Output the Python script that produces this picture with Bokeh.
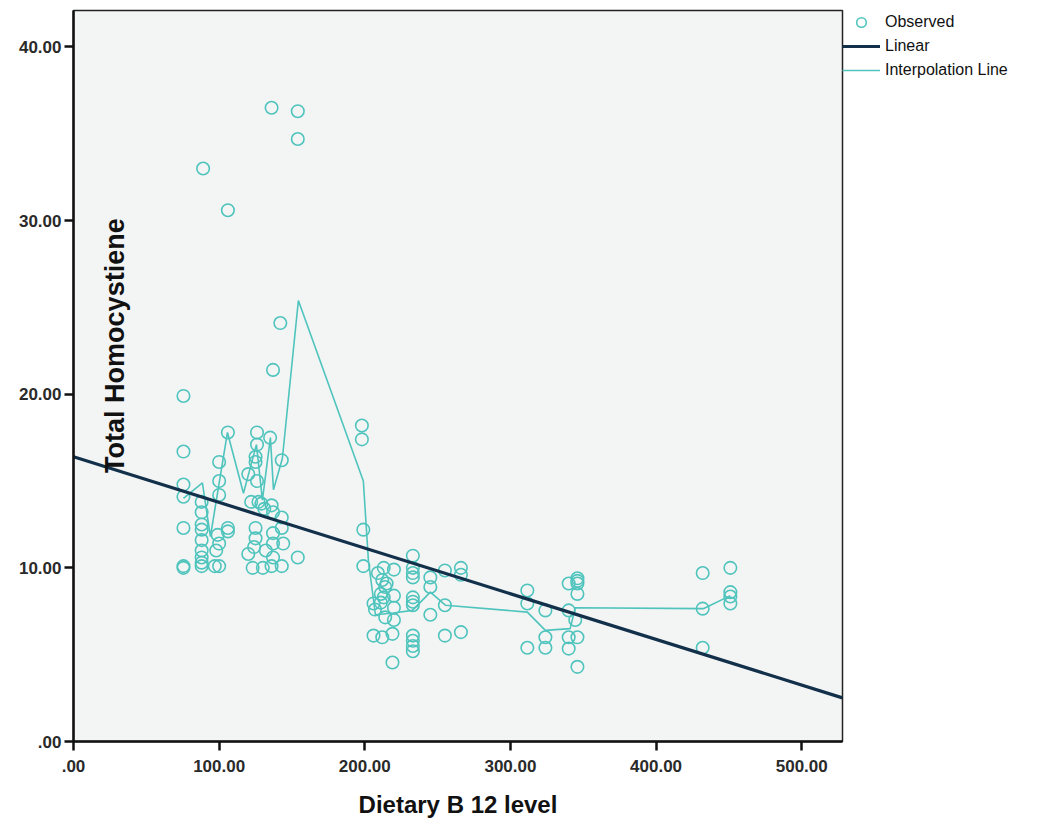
from bokeh.plotting import figure
from bokeh.models import Range1d, FixedTicker, Label, Legend, LegendItem
from bokeh.embed import file_html
from bokeh.resources import INLINE

# Observed points: Dietary B12 level (x) vs Total Homocystiene (y)
observed_x = [
    75.5, 75.5, 75.5, 75.5, 75.5, 75.5, 75.5,
    89, 88, 88, 88, 88, 88, 88, 88, 88, 88,
    97, 98, 100, 100, 100, 99, 100, 100,
    106, 106, 106, 106,
    126, 135, 126, 125, 125, 120, 126, 143, 122, 127, 129, 131, 136, 137, 143, 143,
    125, 125, 137, 124, 137, 144, 120, 132, 137, 154, 123, 130, 136, 143,
    142, 137, 136, 154, 154,
    198, 198, 199, 199,
    209, 213, 220, 212, 214, 215, 211, 213, 220, 206, 211, 220, 207, 214, 220, 206, 212, 219, 219,
    233, 233, 233, 233, 233, 233, 233, 233, 233, 233, 233,
    245, 245, 245,
    255, 255, 255,
    266, 266, 266,
    311.6, 311.6, 311.6,
    324, 324, 324,
    340, 340, 340, 340,
    346, 346, 346, 346, 344.5, 346, 346,
    432, 432, 432,
    451, 451, 451, 451,
]
observed_y = [
    19.9, 16.7, 14.8, 14.1, 12.3, 10.1, 10.0,
    33.0, 13.8, 13.2, 12.5, 12.2, 11.6, 11.0, 10.6, 10.3, 10.1,
    10.1, 11.0, 16.1, 15.0, 14.2, 11.9, 11.4, 10.1,
    17.8, 12.3, 12.1, 30.6,
    17.8, 17.5, 17.1, 16.4, 16.1, 15.4, 15.0, 16.2, 13.8, 13.8, 13.7, 13.4, 13.6, 13.2, 12.9, 12.3,
    12.3, 11.7, 12.0, 11.2, 11.4, 11.4, 10.8, 11.0, 10.6, 10.6, 10.0, 10.0, 10.1, 10.1,
    24.1, 21.4, 36.5, 36.3, 34.7,
    18.2, 17.4, 12.2, 10.1,
    9.7, 10.0, 9.9, 9.3, 8.9, 9.1, 8.5, 8.3, 8.4, 7.95, 8.0, 7.7, 7.6, 7.15, 7.0, 6.1, 6.0, 6.2, 4.55,
    10.7, 10.0, 9.7, 9.45, 8.3, 8.05, 7.85, 6.1, 5.8, 5.5, 5.2,
    9.45, 8.9, 7.3,
    9.85, 7.85, 6.1,
    10.0, 9.6, 6.3,
    8.7, 7.95, 5.4,
    7.55, 6.0, 5.4,
    9.1, 7.55, 6.0, 5.35,
    9.4, 9.25, 9.1, 8.5, 7.0, 6.0, 4.3,
    9.7, 7.65, 5.4,
    10.0, 8.6, 8.35, 7.95,
]

# Interpolation line vertices
interp_x = [75.5, 88.5, 94, 105.7, 116.7, 125.6, 129.7, 135.2, 137.3, 143.4, 154.4,
            199.0, 202.5, 207.3, 219.6, 232.7, 245.0, 255.3, 311.6, 324.0, 341.0,
            344.5, 432.4, 451.0]
interp_y = [14.0, 14.9, 11.8, 17.8, 14.3, 17.1, 13.9, 17.5, 14.5, 16.3, 25.4,
            15.0, 10.4, 7.3, 7.4, 7.55, 8.6, 7.85, 7.45, 6.4, 6.5,
            7.7, 7.65, 8.4]

# Linear fit
fit_intercept = 16.4
fit_slope = -0.0263

x_ticks = [0, 100, 200, 300, 400, 500]
x_tick_labels = [".00", "100.00", "200.00", "300.00", "400.00", "500.00"]
y_ticks = [0, 10, 20, 30, 40]
y_tick_labels = [".00", "10.00", "20.00", "30.00", "40.00"]

X_MAX = 528
Y_MAX = 42.1

FONT = "Liberation Sans"
TEAL = "#4fc4bd"
NAVY = "#13304b"

p = figure(frame_width=769, frame_height=731, output_backend="svg", toolbar_location=None,
           x_range=Range1d(0, X_MAX), y_range=Range1d(0, Y_MAX),
           min_border_left=73, min_border_top=10, min_border_bottom=80, min_border_right=0)

p.background_fill_color = "#f3f4f4"
p.border_fill_color = "white"
p.outline_line_color = "#222222"
p.outline_line_width = 1.5
p.xgrid.visible = False
p.ygrid.visible = False

lin_x = [0, X_MAX]
lin_y = [fit_intercept + fit_slope * v for v in lin_x]

r_obs = p.scatter(observed_x, observed_y, marker="circle", size=12.5, fill_color=None,
                  line_color=TEAL, line_width=1.6)
r_int = p.line(interp_x, interp_y, line_color=TEAL, line_width=1.6)
r_lin = p.line(lin_x, lin_y, line_color=NAVY, line_width=3.2)

for ax, ticks, labels in ((p.xaxis[0], x_ticks, x_tick_labels), (p.yaxis[0], y_ticks, y_tick_labels)):
    ax.ticker = FixedTicker(ticks=ticks)
    ax.major_label_overrides = {t: l for t, l in zip(ticks, labels)}
    ax.minor_tick_line_color = None
    ax.major_tick_out = 9
    ax.major_tick_in = 0
    ax.major_tick_line_width = 2.5
    ax.axis_line_width = 2.5
    ax.axis_line_color = "#111111"
    ax.major_tick_line_color = "#111111"
    ax.major_label_text_font = FONT
    ax.major_label_text_font_size = "17px"
    ax.major_label_text_font_style = "bold"
    ax.major_label_text_color = "#2a2a2a"

p.xaxis.major_label_standoff = 9
p.yaxis.major_label_standoff = 3

p.xaxis.axis_label = "Dietary B 12 level"
p.xaxis.axis_label_text_font = FONT
p.xaxis.axis_label_text_font_size = "24px"
p.xaxis.axis_label_text_font_style = "bold"
p.xaxis.axis_label_text_color = "#111111"
p.xaxis.axis_label_standoff = 16

ylab = Label(x=28.8, y=22.8, text="Total Homocystiene", angle=90, angle_units="deg",
             text_align="center", text_baseline="middle", text_font=FONT,
             text_font_size="27px", text_font_style="bold", text_color="#111111")
p.add_layout(ylab)

legend = Legend(items=[
    LegendItem(label="Observed", renderers=[r_obs]),
    LegendItem(label="Linear", renderers=[r_lin]),
    LegendItem(label="Interpolation Line", renderers=[r_int]),
], location="top_left")
legend.margin = 0
legend.padding = 0
legend.spacing = 0
legend.glyph_width = 38
legend.glyph_height = 24
legend.label_height = 24
legend.label_standoff = 5
legend.label_text_font = FONT
legend.label_text_font_size = "16px"
legend.label_text_color = "#111111"
legend.border_line_alpha = 0
legend.background_fill_alpha = 0
p.add_layout(legend, "right")

open("out.html", "w").write(file_html(p, INLINE))
